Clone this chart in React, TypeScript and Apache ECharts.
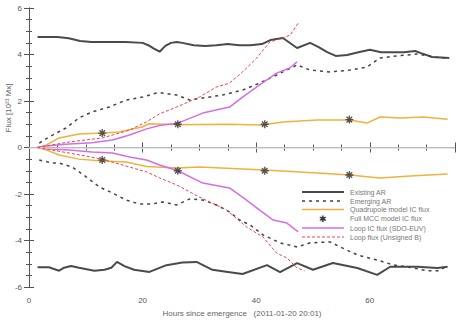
import React, { useEffect, useRef } from "react";
import * as echarts from "echarts";

// Hours since emergence paired with flux in units of 1e21 Mx.
const existingPositive: [number, number][] = [
  [1.5, 4.75], [3, 4.75], [5, 4.75], [7, 4.7], [9, 4.58], [11, 4.54], [14, 4.54], [17, 4.54],
  [20, 4.5], [21, 4.4], [22, 4.25], [23, 4.12], [24, 4.37], [25, 4.5], [26, 4.54], [27, 4.5],
  [29, 4.4], [31, 4.37], [33, 4.4], [35, 4.45], [37, 4.4], [39, 4.4], [41, 4.45], [42.5, 4.62],
  [44.7, 4.71], [47.2, 4.28], [49.5, 4.5], [51, 4.32], [52.5, 4.1], [54, 3.94], [56, 3.98],
  [58, 4.1], [60, 4.2], [62, 4.1], [64, 4.1], [66, 4.1], [68, 4.15], [69, 4.06], [71, 3.89], [74, 3.85],
];
const existingNegative: [number, number][] = [
  [1.5, -5.15], [3.5, -5.15], [5.3, -5.3], [6.2, -5.17], [7.4, -5.1], [8.8, -5.17], [11.5, -5.3],
  [13.3, -5.26], [14.5, -5.17], [15.5, -4.92], [16.8, -5.1], [18.5, -5.26], [21.2, -5.35],
  [24.2, -5.06], [27, -4.95], [29.5, -4.92], [32.3, -5.26], [35, -5.35], [37.6, -5.44],
  [41.9, -5.06], [44.2, -5.36], [47.2, -4.97], [50, -5.26], [53.5, -4.97], [57.8, -5.18],
  [61.3, -5.48], [63.6, -5.13], [68.4, -5.13], [71.9, -5.18], [73.7, -5.13],
];
const emergingPositive: [number, number][] = [
  [1.8, 0.19], [3.5, 0.45], [6.5, 0.84], [8.8, 1.27], [11.1, 1.53], [14.1, 1.74], [17.1, 2.04],
  [20, 2.17], [22.4, 2.34], [23.5, 2.34], [26, 2.26], [28.3, 2.04], [30.6, 2.13], [34.1, 2.26],
  [37.6, 2.47], [40.6, 2.77], [43.6, 3.12], [47.2, 3.55], [49.5, 3.33], [53, 3.25], [56.5, 3.33],
  [59.5, 3.46], [61.8, 3.85], [64.8, 3.94], [68.4, 4.02], [71.2, 3.89], [73.7, 3.85],
];
const emergingNegative: [number, number][] = [
  [1.8, -0.54], [4.1, -0.67], [5.3, -0.67], [7.6, -0.84], [10.1, -1.27], [12.4, -1.7],
  [14.7, -1.96], [17.1, -2.26], [19.4, -2.43], [21.7, -2.43], [23.5, -2.34], [26, -2.47],
  [28.3, -2.21], [30.6, -2.26], [33, -2.47], [35.3, -2.77], [37.1, -3.12], [38.9, -3.33],
  [41.2, -3.76], [44.2, -4.1], [47.2, -4.28], [49.5, -4.1], [53, -4.06], [54.8, -4.28],
  [57.8, -4.62], [61.3, -4.84], [64.1, -5.05], [67.7, -5.18], [70, -5.3], [72, -5.3], [73.7, -5.1],
];
const quadrupolePositive: [number, number][] = [
  [1.5, 0], [3, 0.1], [5.3, 0.41], [8.8, 0.58], [12.9, 0.62], [15.9, 0.67], [19.9, 0.88],
  [21.2, 1.02], [26.5, 0.98], [35, 1.0], [41, 0.97], [44.7, 1.1], [50.7, 1.18], [56.5, 1.18],
  [59.5, 1.05], [61.8, 1.31], [65.4, 1.27], [69.4, 1.31], [73.7, 1.22],
];
const quadrupoleNegative: [number, number][] = [
  [1.5, 0], [3, -0.1], [5.3, -0.32], [8.8, -0.5], [12.9, -0.58], [17.1, -0.62], [20.7, -0.82],
  [26.2, -0.88], [30, -0.84], [41.5, -0.97], [50.7, -1.1], [56.5, -1.18], [61.8, -1.31],
  [67.1, -1.23], [73.7, -1.14],
];
const fullModelPositive: [number, number][] = [[12.9, 0.62], [26.2, 1.0], [41.5, 1.0], [56.4, 1.2]];
const fullModelNegative: [number, number][] = [[12.9, -0.54], [26.2, -1.0], [41.5, -1.0], [56.4, -1.18]];
const loopICPositive: [number, number][] = [
  [1.5, 0], [3, 0.06], [7.1, 0.15], [11.1, 0.2], [14.7, 0.32], [17.7, 0.54], [20.7, 0.8],
  [23, 0.95], [26.2, 1.05], [30.6, 1.48], [35.3, 1.74], [37.6, 2.17], [40.6, 2.69], [43.6, 3.2],
  [45.9, 3.42], [47.2, 3.68],
];
const loopICNegative: [number, number][] = [
  [1.5, 0], [3, -0.05], [7.1, -0.11], [11.1, -0.19], [14.7, -0.24], [17.7, -0.41], [20.7, -0.54],
  [23, -0.75], [26.2, -1.0], [30.6, -1.53], [35.3, -1.74], [38.3, -2.26], [40.6, -2.69],
  [43, -3.12], [45.4, -3.25], [47.4, -3.63],
];
const loopFluxPositive: [number, number][] = [
  [1.5, 0], [7.1, 0.24], [12.9, 0.41], [17.7, 0.75], [20.7, 1.1], [23, 1.45], [26, 1.74],
  [30, 2.17], [33, 2.6], [35.3, 2.77], [37.6, 3.25], [40.1, 3.85], [42.4, 4.54], [44.7, 4.71],
  [46, 4.84], [47.4, 5.35],
];
const loopFluxNegative: [number, number][] = [
  [1.5, 0], [7.1, -0.24], [12.9, -0.5], [17.7, -0.84], [20.7, -1.05], [23, -1.31], [26, -1.61],
  [30, -2.13], [34.8, -2.69], [38.3, -3.42], [41.2, -3.85], [43.6, -4.54], [45.4, -4.75],
  [47.2, -5.18], [48.5, -5.3],
];

const legendLabels = [
  "Existing AR",
  "Emerging AR",
  "Quadrupole model IC flux",
  "Full MCC model IC flux",
  "Loop IC flux (SDO-EUV)",
  "Loop flux (Unsigned B)",
];

const FONT = "Liberation Sans, Arial, sans-serif";
const AXIS_COLOR = "#555";
const C_EXIST = "#4a4a4a";
const C_EMERGE = "#444";
const C_QUAD = "#f2b13c";
const C_STAR = "#333";
const C_LOOPIC = "#d46ee8";
const C_LOOPFLUX = "#ea4646";

const asterisk = "path://M5,0L5,10M0,5L10,5M1.5,1.5L8.5,8.5M1.5,8.5L8.5,1.5";

export default function App() {
  const ref = useRef<HTMLDivElement>(null);

  useEffect(() => {
    if (!ref.current) return;
    const chart = echarts.init(ref.current, null, { renderer: "svg" });

    const tickCommon = {
      axisLine: { show: true, lineStyle: { color: AXIS_COLOR, width: 1 } },
      axisTick: { show: true, inside: true, length: 5, lineStyle: { color: AXIS_COLOR } },
      minorTick: { show: true, splitNumber: 4, length: 3, lineStyle: { color: AXIS_COLOR } },
      splitLine: { show: false },
    };

    const line = (data: [number, number][], color: string, width: number, type: any, z = 2) => ({
      type: "line",
      data,
      showSymbol: false,
      symbol: "none",
      lineStyle: { color, width, type },
      z,
      silent: true,
    });

    const stars = (data: [number, number][]) => ({
      type: "scatter",
      data,
      symbol: asterisk,
      symbolSize: 8,
      itemStyle: { color: "none", borderColor: C_STAR, borderWidth: 1.4 },
      z: 6,
      silent: true,
    });

    // Legend drawn as graphic rows: sample line/marker and label.
    const lx0 = 302;
    const lx1 = 344;
    const rowY = [192, 201, 209.5, 218.5, 228, 237];
    const samples: any[] = [
      { type: "line", shape: { x1: lx0, y1: rowY[0], x2: lx1, y2: rowY[0] }, style: { stroke: C_EXIST, lineWidth: 2 } },
      { type: "line", shape: { x1: lx0, y1: rowY[1], x2: lx1, y2: rowY[1] }, style: { stroke: C_EMERGE, lineWidth: 1.5, lineDash: [3, 4] } },
      { type: "line", shape: { x1: lx0, y1: rowY[2], x2: lx1, y2: rowY[2] }, style: { stroke: C_QUAD, lineWidth: 1.5 } },
      { type: "text", x: (lx0 + lx1) / 2, y: rowY[3], style: { text: "✱", fill: C_STAR, font: `9px ${FONT}`, align: "center", verticalAlign: "middle" } },
      { type: "line", shape: { x1: lx0, y1: rowY[4], x2: lx1, y2: rowY[4] }, style: { stroke: C_LOOPIC, lineWidth: 1.5 } },
      { type: "line", shape: { x1: lx0, y1: rowY[5], x2: lx1, y2: rowY[5] }, style: { stroke: C_LOOPFLUX, lineWidth: 1, lineDash: [3, 2] } },
    ];
    const labels = legendLabels.map((t, i) => ({
      type: "text",
      x: 350,
      y: rowY[i],
      style: { text: t, fill: "#777", font: `7px ${FONT}`, verticalAlign: "middle" },
    }));

    chart.setOption({
      animation: false,
      backgroundColor: "#fff",
      textStyle: { fontFamily: FONT },
      grid: { left: 29, right: 7, top: 8, bottom: 45, containLabel: false },
      xAxis: [
        {
          type: "value",
          position: "bottom",
          min: 0,
          max: 75,
          interval: 20,
          ...tickCommon,
          axisLabel: { color: "#555", fontSize: 8, margin: 9, showMaxLabel: false },
          name: "Hours since emergence   (2011-01-20 20:01)",
          nameLocation: "middle",
          nameGap: 22,
          nameTextStyle: { color: "#666", fontSize: 8 },
        },
        {
          type: "value",
          position: "top",
          min: 0,
          max: 75,
          interval: 20,
          ...tickCommon,
          axisLabel: { show: false },
        },
      ],
      yAxis: [
        {
          type: "value",
          position: "left",
          min: -6,
          max: 6,
          interval: 2,
          ...tickCommon,
          axisLabel: { color: "#555", fontSize: 8, margin: 7 },
        },
        {
          type: "value",
          position: "right",
          min: -6,
          max: 6,
          interval: 2,
          ...tickCommon,
          axisLabel: { show: false },
        },
      ],
      series: [
        {
          type: "line",
          data: [],
          markLine: {
            silent: true,
            symbol: "none",
            label: { show: false },
            lineStyle: { color: "#dcdcdc", width: 1.5, type: "solid" },
            data: [{ yAxis: 0 }],
          },
        },
        line(existingPositive, C_EXIST, 2, "solid"),
        line(existingNegative, C_EXIST, 2, "solid"),
        line(emergingPositive, C_EMERGE, 1.5, [3, 4]),
        line(emergingNegative, C_EMERGE, 1.5, [3, 4]),
        line(quadrupolePositive, C_QUAD, 1.5, "solid", 3),
        line(quadrupoleNegative, C_QUAD, 1.5, "solid", 3),
        line(loopICPositive, C_LOOPIC, 1.5, "solid", 4),
        line(loopICNegative, C_LOOPIC, 1.5, "solid", 4),
        line(loopFluxPositive, C_LOOPFLUX, 1, [3, 2], 5),
        line(loopFluxNegative, C_LOOPFLUX, 1, [3, 2], 5),
        stars(fullModelPositive),
        stars(fullModelNegative),
      ],
      graphic: [
        {
          type: "text",
          x: 8,
          y: 108,
          rotation: Math.PI / 2,
          style: {
            text: "Flux [10²¹ Mx]",
            fill: "#666",
            font: `8px ${FONT}`,
            align: "center",
            verticalAlign: "middle",
          },
        },
        ...samples,
        ...labels,
      ],
    });

    return () => chart.dispose();
  }, []);

  return (
    <div
      ref={ref}
      style={{ position: "absolute", left: 0, top: 0, width: 462, height: 332 }}
    />
  );
}
